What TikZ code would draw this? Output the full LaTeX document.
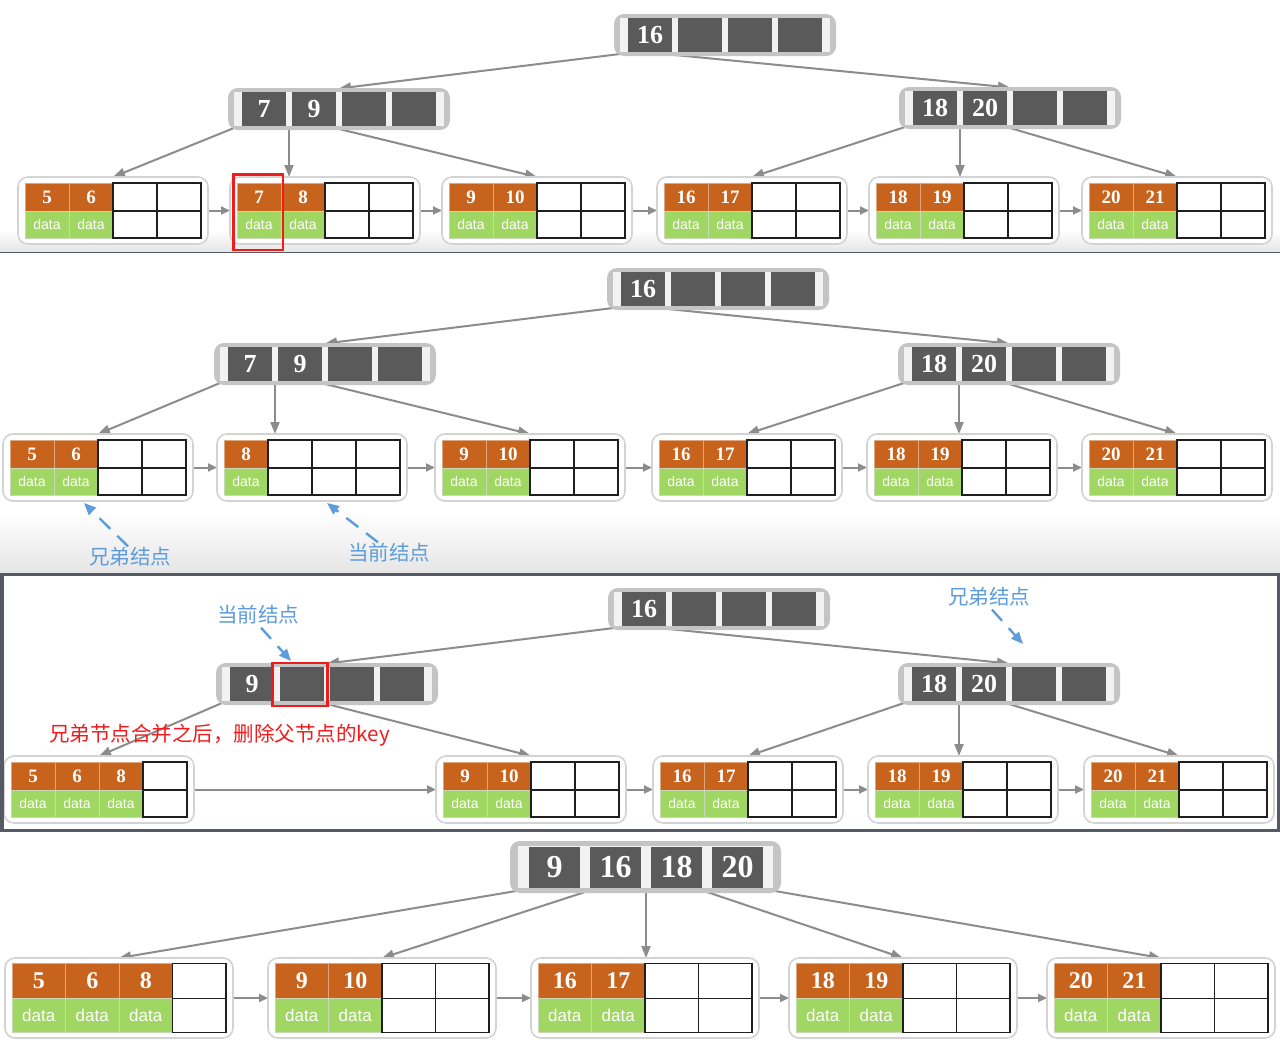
\documentclass[tikz,border=0pt]{standalone}
\usepackage{fontspec}
\setmainfont{Liberation Serif}
\newfontfamily\sansf{Liberation Sans}
\newfontfamily\cjk{Noto Sans CJK SC}
\usetikzlibrary{arrows.meta}
\pgfdeclarelayer{bg}
\pgfsetlayers{bg,main}
\definecolor{igray}{HTML}{C4C4C4}
\definecolor{iin}{HTML}{F2F2F2}
\definecolor{cdark}{HTML}{5A5A5A}
\definecolor{korange}{HTML}{C7631C}
\definecolor{kline}{HTML}{DDA67C}
\definecolor{dgreen}{HTML}{A0D762}
\definecolor{dline}{HTML}{C9D9B8}
\definecolor{lborder}{HTML}{D3D3D3}
\definecolor{agray}{HTML}{8C8C8C}
\definecolor{ablue}{HTML}{5E9CDB}
\definecolor{ared}{HTML}{F21B1B}
\definecolor{sepc}{HTML}{565A66}
\definecolor{shadeg}{HTML}{E6E6E6}
\tikzset{
  ibox/.style={fill=igray, rounded corners=10pt, inner sep=0pt, outer sep=0pt},
  icell/.style={fill=cdark, text=white, inner sep=0pt, outer sep=0pt, font=\ikf},
  lbox/.style={draw=lborder, fill=white, line width=1.6pt, rounded corners=10pt, inner sep=0pt, outer sep=0pt},
  kcell/.style={fill=korange, draw=kline, line width=0.7pt, text=white, font=\lkf,
    minimum width=\lcw, minimum height=\lkh, inner sep=0pt, outer sep=0pt, anchor=north west},
  dcell/.style={fill=dgreen, draw=dline, line width=0.7pt, text=white, font=\ldf,
    minimum width=\lcw, minimum height=\ldh, inner sep=0pt, outer sep=0pt, anchor=north west},
  egrid/.style={draw=black!88, line width=1.5pt, fill=white},
  conn/.style={draw=agray, line width=2pt, -{Triangle[length=12pt,width=9pt]}},
  lconn/.style={draw=agray, line width=2pt, -{Triangle[length=9pt,width=8pt]}},
  bluearr/.style={draw=ablue, line width=2.4pt, dash pattern=on 15pt off 10pt, -{Triangle[length=12pt,width=10pt]}},
  bluetxt/.style={text=ablue, font=\cjk\fontsize{20.5}{20.5}\selectfont, inner sep=0pt},
  redtxt/.style={text=ared, font=\cjk\fontsize{20.5}{20.5}\selectfont, inner sep=0pt},
  redbox/.style={draw=ared, line width=2.6pt}
}
% internal node: name, left x, top y, keys
\newcommand{\inode}[4]{%
  \node[ibox, minimum width=\iW, minimum height=\iH, anchor=north west] (#1) at (#2,#3) {};
  \fill[iin] ({#2+\ipx},{#3+\ipy}) rectangle ({#2+\iW-\ipx},{#3+\iH-\ipy});
  \foreach \k [count=\i] in {#4} {
    \node[icell, minimum width=\icw, minimum height=\ich, anchor=north west] (#1-\i)
      at ({#2+\ipad+(\i-1)*\istep},{#3+(\iH-\ich)/2}) {\k};
  }
  \coordinate (#1-p0) at ({#2+6},{#3+\iH-2});
  \coordinate (#1-p4) at ({#2+\iW-6},{#3+\iH-2});
  \foreach \i in {1,2,3} {
    \pgfmathsetmacro\gx{#2+\ipad+\i*\istep-(\istep-\icw)/2}
    \coordinate (#1-p\i) at (\gx,{#3+\iH-1});
    \coordinate (#1-t\i) at (\gx,{#3+0.5});
  }
}
% leaf node: name, left x, top y, keys (filled ones)
\newcommand{\lnode}[4]{%
  \pgfmathsetmacro\lW{4*\lcw+2*\lpx}
  \pgfmathsetmacro\lH{\lkh+\ldh+2*\lpy}
  \node[lbox, minimum width=\lW, minimum height=\lH, anchor=north west] (#1) at (#2,#3) {};
  \foreach \k [count=\i] in {#4} {
    \node[kcell] (#1-k\i) at ({#2+\lpx+(\i-1)*\lcw},{#3+\lpy}) {\k};
    \node[dcell] (#1-d\i) at ({#2+\lpx+(\i-1)*\lcw},{#3+\lpy+\lkh}) {data};
    \xdef\nk{\i}
  }
  \pgfmathtruncatemacro\st{\nk+1}
  \foreach \j in {\st,...,4} {
    \pgfmathsetmacro\ex{#2+\lpx+(\j-1)*\lcw}
    \draw[egrid] (\ex,{#3+\lpy}) rectangle ++(\lcw,\lkh);
    \draw[egrid] (\ex,{#3+\lpy+\lkh}) rectangle ++(\lcw,\ldh);
  }
}
\begin{document}
\begin{tikzpicture}[x=1pt,y=-1pt]
\useasboundingbox (0,0) rectangle (1280,1050);
\begin{pgfonlayer}{bg}
  \fill[white] (0,0) rectangle (1280,1050);
  \shade[top color=white, bottom color=shadeg] (0,230) rectangle (1280,251.5);
  \shade[top color=white, bottom color=shadeg] (0,512) rectangle (1280,572);
\end{pgfonlayer}

% ---------- sizes for panels 1-3 ----------
\def\iW{222}\def\iH{42}\def\icw{44}\def\istep{50}\def\ipad{14}\def\ich{34}\def\ipx{6}\def\ipy{4}
\def\ikf{\bfseries\fontsize{26}{26}\selectfont}
\def\lcw{44}\def\lkh{28}\def\ldh{27}\def\lpx{7}\def\lpy{6}
\def\lkf{\bfseries\fontsize{19}{19}\selectfont}
\def\ldf{\sansf\fontsize{14}{14}\selectfont}

% ---------- panel 1 ----------
\inode{r1}{614}{14}{16,{},{},{}}
\inode{a1}{228}{88}{7,9,{},{}}
\inode{b1}{899}{87}{18,20,{},{}}
\lnode{l11}{18}{177}{5,6}
\lnode{l12}{230}{177}{7,8}
\lnode{l13}{442}{177}{9,10}
\lnode{l14}{657}{177}{16,17}
\lnode{l15}{869}{177}{18,19}
\lnode{l16}{1082}{177}{20,21}
\draw[redbox] (233.5,174.5) rectangle (283,250);

% ---------- panel 2 ----------
\inode{r2}{607}{268}{16,{},{},{}}
\inode{a2}{214}{343}{7,9,{},{}}
\inode{b2}{898}{343}{18,20,{},{}}
\lnode{l21}{3}{434}{5,6}
\lnode{l22}{217}{434}{8}
\lnode{l23}{435}{434}{9,10}
\lnode{l24}{652}{434}{16,17}
\lnode{l25}{867}{434}{18,19}
\lnode{l26}{1082}{434}{20,21}
\node[bluetxt] (n21) at (130,557) {兄弟结点};
\node[bluetxt] (n22) at (389,553) {当前结点};
\coordinate (n21tip) at (84,503);
\coordinate (n22tip) at (327,503);
\draw[bluearr] ([xshift=-2pt,yshift=1pt]n21.north) -- (n21tip);
\draw[bluearr] ([xshift=-11pt,yshift=1pt]n22.north) -- (n22tip);

% ---------- panel 3 ----------
\inode{r3}{608}{588}{16,{},{},{}}
\inode{a3}{216}{663}{9,{},{},{}}
\inode{b3}{898}{663}{18,20,{},{}}
\lnode{l31}{4}{756}{5,6,8}
\lnode{l32}{436}{756}{9,10}
\lnode{l33}{653}{756}{16,17}
\lnode{l34}{868}{756}{18,19}
\lnode{l35}{1084}{756}{20,21}
\draw[redbox] (272.5,663) rectangle (327.5,706);
\node[bluetxt] (n31) at (258,615) {当前结点};
\node[bluetxt] (n32) at (989,597) {兄弟结点};
\coordinate (n31tip) at (291,661);
\coordinate (n32tip) at (1023,644);
\draw[bluearr] ([xshift=3pt,yshift=-3pt]n31.south) -- (n31tip);
\draw[bluearr] ([xshift=3pt,yshift=-3pt]n32.south) -- (n32tip);
\node[redtxt, anchor=west] (note) at (49,735) {兄弟节点合并之后，删除父节点的key};

% ---------- panel 4 ----------
\def\iW{271}\def\iH{52}\def\icw{51}\def\istep{61}\def\ipad{19}\def\ich{41}\def\ipx{8}\def\ipy{5}
\def\ikf{\bfseries\fontsize{32}{32}\selectfont}
\def\lcw{53.5}\def\lkh{35}\def\ldh{34}\def\lpx{7}\def\lpy{5.5}
\def\lkf{\bfseries\fontsize{24}{24}\selectfont}
\def\ldf{\sansf\fontsize{17}{17}\selectfont}
\inode{r4}{510}{841}{9,16,18,20}
\lnode{l41}{5}{958}{5,6,8}
\lnode{l42}{268}{958}{9,10}
\lnode{l43}{531}{958}{16,17}
\lnode{l44}{789}{958}{18,19}
\lnode{l45}{1047}{958}{20,21}

% ---------- connectors ----------
\begin{pgfonlayer}{bg}
  % panel 1
  \draw[conn] (r1-p0) -- (a1-t2);
  \draw[conn] (r1-p1) -- (b1-t2);
  \draw[conn] (a1-p0) -- (l11.north);
  \draw[conn] (a1-p1) -- (a1-p1 |- l12.north);
  \draw[conn] (a1-p2) -- (l13.north);
  \draw[conn] (b1-p0) -- (l14.north);
  \draw[conn] (b1-p1) -- (b1-p1 |- l15.north);
  \draw[conn] (b1-p2) -- (l16.north);
  \foreach \a/\b in {l11/l12,l12/l13,l13/l14,l14/l15,l15/l16}
    \draw[lconn] (\a.east) -- (\b.west);
  % panel 2
  \draw[conn] (r2-p0) -- (a2-t2);
  \draw[conn] (r2-p1) -- (b2-t2);
  \draw[conn] (a2-p0) -- (l21.north);
  \draw[conn] (a2-p1) -- (a2-p1 |- l22.north);
  \draw[conn] (a2-p2) -- (l23.north);
  \draw[conn] (b2-p0) -- (l24.north);
  \draw[conn] (b2-p1) -- (b2-p1 |- l25.north);
  \draw[conn] (b2-p2) -- (l26.north);
  \foreach \a/\b in {l21/l22,l22/l23,l23/l24,l24/l25,l25/l26}
    \draw[lconn] (\a.east) -- (\b.west);
  % panel 3
  \draw[conn] (r3-p0) -- (a3-t2);
  \draw[conn] (r3-p1) -- (b3-t2);
  \draw[conn] (a3-p0) -- (l31.north);
  \draw[conn] (a3-p2) -- (l32.north);
  \draw[conn] (b3-p0) -- (l33.north);
  \draw[conn] (b3-p1) -- (b3-p1 |- l34.north);
  \draw[conn] (b3-p2) -- (l35.north);
  \foreach \a/\b in {l31/l32,l32/l33,l33/l34,l34/l35}
    \draw[lconn] (\a.east) -- (\b.west);
  % panel 4
  \draw[conn] (r4-p0) -- (l41.north);
  \draw[conn] (r4-p1) -- (l42.north);
  \draw[conn] (r4-p2) -- (r4-p2 |- l43.north);
  \draw[conn] (r4-p3) -- (l44.north);
  \draw[conn] (r4-p4) -- (l45.north);
  \foreach \a/\b in {l41/l42,l42/l43,l43/l44,l44/l45}
    \draw[lconn] (\a.east) -- (\b.west);
\end{pgfonlayer}

% ---------- panel separators ----------
\draw[sepc, line width=1.6pt] (0,252.3) -- (1280,252.3);
\draw[sepc, line width=3.5pt] (1.75,574.5) rectangle (1278.25,830.5);
\end{tikzpicture}
\end{document}
